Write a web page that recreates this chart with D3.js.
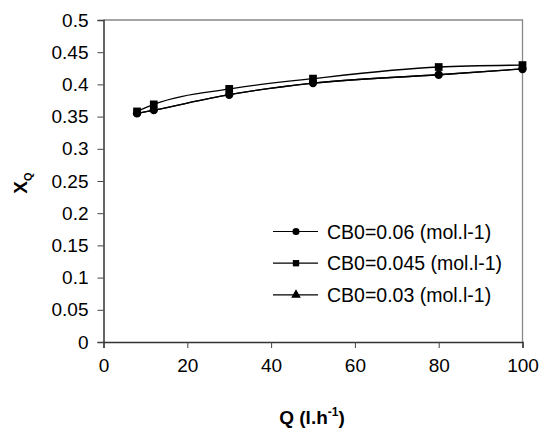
<!DOCTYPE html>
<html><head><meta charset="utf-8">
<script src="https://cdn.jsdelivr.net/npm/d3@7"></script>
<style>body{margin:0;background:#fff}svg{display:block}text{font-family:"Liberation Sans",Arial,sans-serif}</style>
</head><body>
<svg id="c" width="548" height="430"></svg>
<script>
const qValues = [8, 12, 30, 50, 80, 100];
const cb006 = [0.355, 0.360, 0.384, 0.402, 0.415, 0.424];
const cb0045 = [0.358, 0.369, 0.393, 0.409, 0.427, 0.430];
const cb003 = [0.355, 0.360, 0.384, 0.402, 0.415, 0.424];
const seriesNames = ["CB0=0.06 (mol.l-1)", "CB0=0.045 (mol.l-1)", "CB0=0.03 (mol.l-1)"];
const xTicks = [0, 20, 40, 60, 80, 100];
const yTicks = [0, 0.05, 0.1, 0.15, 0.2, 0.25, 0.3, 0.35, 0.4, 0.45, 0.5];

const svg = d3.select("#c");
const m = {l: 103.5, r: 522.5, t: 20, b: 342};
const x = d3.scaleLinear().domain([0, 100]).range([m.l, m.r]);
const y = d3.scaleLinear().domain([0, 0.5]).range([m.b, m.t]);

// frame (top/right gray)
svg.append("path").attr("d", `M${m.l},${m.t}H${m.r}V${m.b}`)
  .attr("fill", "none").attr("stroke", "#888").attr("stroke-width", 1.3);

const ya = svg.append("g").attr("transform", `translate(${m.l},0)`)
  .call(d3.axisLeft(y).tickValues(yTicks).tickSize(6).tickPadding(9).tickFormat(d => d3.format("")(+d.toFixed(2))));
const xa = svg.append("g").attr("transform", `translate(0,${m.b})`)
  .call(d3.axisBottom(x).tickValues(xTicks).tickSize(6).tickPadding(11));
[ya, xa].forEach(a => {
  a.select(".domain").attr("stroke", "#333").attr("stroke-width", 1.5);
  a.selectAll(".tick line").attr("stroke", "#444");
  a.selectAll("text").attr("font-size", 19).attr("fill", "#000").attr("font-family", "Liberation Sans, Arial, sans-serif");
});
xa.selectAll("text").attr("dy", "0.71em");

const line = d3.line().curve(d3.curveMonotoneX).x(d => x(d[0])).y(d => y(d[1]));
const series = [
  {name: seriesNames[2], vals: cb003, sym: d3.symbolTriangle, size: 18},
  {name: seriesNames[0], vals: cb006, sym: d3.symbolCircle, size: 55},
  {name: seriesNames[1], vals: cb0045, sym: d3.symbolSquare, size: 60}
];
series.forEach(s => {
  const pts = qValues.map((q, i) => [q, s.vals[i]]);
  svg.append("path").attr("d", line(pts)).attr("fill", "none").attr("stroke", "#000").attr("stroke-width", 1.3);
  svg.selectAll(null).data(pts).enter().append("path")
    .attr("d", d3.symbol().type(s.sym).size(s.size))
    .attr("transform", d => `translate(${x(d[0])},${y(d[1])})`).attr("fill", "#000");
});

// legend
const legendItems = [
  {name: seriesNames[0], sym: d3.symbolCircle},
  {name: seriesNames[1], sym: d3.symbolSquare},
  {name: seriesNames[2], sym: d3.symbolTriangle}
];
legendItems.forEach((s, i) => {
  const ly = 231.5 + i * 31.7;
  svg.append("line").attr("x1", 273).attr("x2", 318).attr("y1", ly).attr("y2", ly).attr("stroke", "#000").attr("stroke-width", 1.2);
  svg.append("path").attr("d", d3.symbol().type(s.sym).size(40)).attr("transform", `translate(296,${ly})`).attr("fill", "#000");
  svg.append("text").attr("x", 327).attr("y", ly).attr("dy", "0.36em").attr("font-size", 19.5).text(s.name);
});

// axis titles
const xt = svg.append("text").attr("x", 312).attr("y", 424).attr("text-anchor", "middle")
  .attr("font-size", 19).attr("font-weight", "bold");
xt.append("tspan").text("Q (l.h");
xt.append("tspan").attr("dy", -8).attr("font-size", 12).text("-1");
xt.append("tspan").attr("dy", 8).text(")");

const yt = svg.append("text").attr("transform", "translate(27,183) rotate(-90)").attr("text-anchor", "middle")
  .attr("font-size", 19).attr("font-weight", "bold");
yt.append("tspan").text("X");
yt.append("tspan").attr("dy", 5).attr("font-size", 11).text("Q");
</script>
</body></html>
